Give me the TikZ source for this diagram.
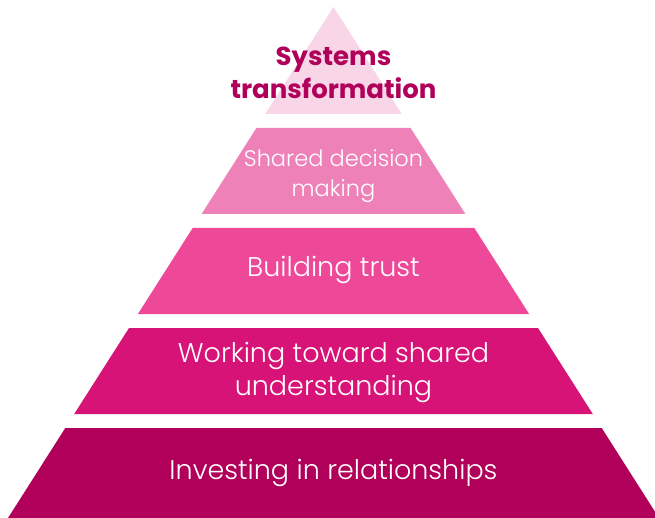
\documentclass[tikz,border=0pt]{standalone}
\usepackage{fontspec}
\setmainfont{Poppins}[UprightFont={* Light}, BoldFont={* Bold}]
\usepackage{tikz}

\definecolor{tiertop}{HTML}{F8D5E7}
\definecolor{tiertwo}{HTML}{EE81B8}
\definecolor{tierthree}{HTML}{EE4899}
\definecolor{tierfour}{HTML}{D81378}
\definecolor{tierbase}{HTML}{B0005A}

\tikzset{
  tierlabel/.style={text=white, align=center, inner sep=0pt},
  biglabel/.style={tierlabel, font=\fontsize{27}{33}\selectfont},
  smalllabel/.style={tierlabel, font=\fontsize{22.5}{30}\selectfont}
}

\begin{document}
\begin{tikzpicture}[x=1pt,y=-1pt]

   \useasboundingbox (0,0) rectangle (655,518);
   \clip (0,0) rectangle (655,518);

   % pyramid tiers, top to bottom
   \fill[tiertop]   (333.5,7) -- (401.7,114) -- (265.3,114) -- cycle;
   \fill[tiertwo]   (256.4,128) -- (410.6,128) -- (465.4,214) -- (201.6,214) -- cycle;
   \fill[tierthree] (192.7,228) -- (474.3,228) -- (529.1,314) -- (137.9,314) -- cycle;
   \fill[tierfour]  (129.0,328) -- (538.0,328) -- (592.8,414) -- (74.2,414) -- cycle;
   \fill[tierbase]  (65.3,428) -- (601.7,428) -- (659.0,518) -- (8.0,518) -- cycle;

   % labels
   \node[biglabel, text=tierbase, font=\fontsize{26}{33}\selectfont\bfseries] (systems) at (333.5,73) {Systems\\transformation};
   \node[smalllabel] (decision) at (333.5,176) {Shared decision\\making};
   \node[biglabel] (trust) at (333.5,270) {Building trust};
   \node[biglabel] (understanding) at (333.5,372) {Working toward shared\\understanding};
   \node[biglabel] (relationships) at (333.5,473) {Investing in relationships};

\end{tikzpicture}
\end{document}
